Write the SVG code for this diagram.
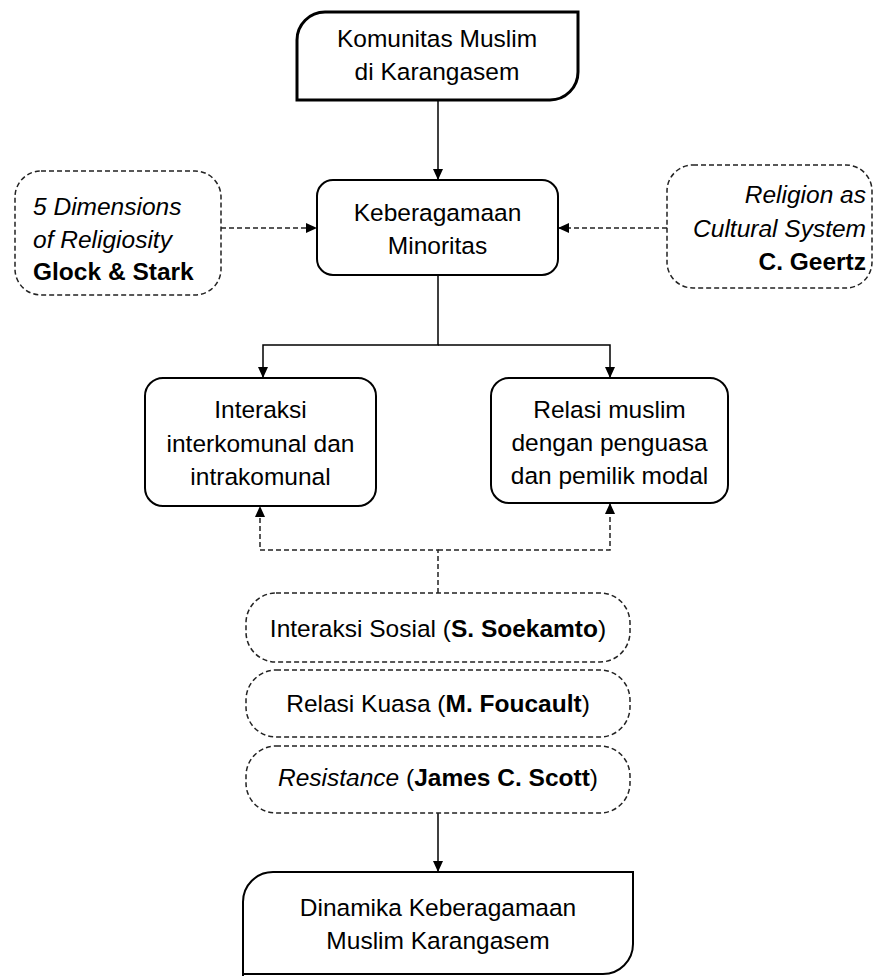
<svg xmlns="http://www.w3.org/2000/svg" width="874" height="976" viewBox="0 0 874 976">
<style>
text{font-family:"Liberation Sans",Arial,sans-serif;font-size:24.5px;fill:#000;}
.c{text-anchor:middle;}
.r{text-anchor:end;}
.b{font-weight:bold;}
.i{font-style:italic;}
.solid{fill:#fff;stroke:#000;stroke-width:2;}
.thick{fill:#fff;stroke:#000;stroke-width:3;}
.dash{fill:#fff;stroke:#222;stroke-width:1.5;stroke-dasharray:5 3;}
.ln{fill:none;stroke:#000;stroke-width:1.5;}
.dl{fill:none;stroke:#222;stroke-width:1.5;stroke-dasharray:5 3;}
</style>
<defs>
<marker id="ah" markerUnits="userSpaceOnUse" markerWidth="11" markerHeight="10" viewBox="0 0 11 10" refX="11" refY="5" orient="auto">
<path d="M0,0 L11,5 L0,10 z" fill="#000"/>
</marker>
</defs>
<rect width="874" height="976" fill="#fff"/>
<g id="connectors">
<path class="ln" d="M438,100 V180" marker-end="url(#ah)"/>
<path class="dl" d="M221,228 H317" marker-end="url(#ah)"/>
<path class="dl" d="M667,228 H558" marker-end="url(#ah)"/>
<path class="ln" d="M438,275 V345 H263 V378" marker-end="url(#ah)"/>
<path class="ln" d="M438,345 H610 V378" marker-end="url(#ah)"/>
<path class="dl" d="M438,593 V550 H260 V506" marker-end="url(#ah)"/>
<path class="dl" d="M438,550 H610 V503" marker-end="url(#ah)"/>
<path class="ln" d="M438,813 V872" marker-end="url(#ah)"/>
</g>
<g id="komunitas">
<path class="thick" d="M297,100 V40 A28,28 0 0 1 325,12 H578 V72 A28,28 0 0 1 550,100 Z"/>
<text class="c" x="437" y="47">Komunitas Muslim</text>
<text class="c" x="437" y="80">di Karangasem</text>
</g>
<g id="keberagamaan">
<rect class="solid" x="317" y="180" width="241" height="95" rx="16"/>
<text class="c" x="437.5" y="221">Keberagamaan</text>
<text class="c" x="437.5" y="254">Minoritas</text>
</g>
<g id="glock">
<rect class="dash" x="15" y="171" width="206" height="124" rx="26"/>
<text class="i" x="33" y="215">5 Dimensions</text>
<text class="i" x="33" y="248">of Religiosity</text>
<text class="b" x="33" y="280">Glock &amp; Stark</text>
</g>
<g id="geertz">
<rect class="dash" x="667" y="165" width="205" height="123" rx="26"/>
<text class="i r" x="866" y="203">Religion as</text>
<text class="i r" x="866" y="237">Cultural System</text>
<text class="b r" x="866" y="270">C. Geertz</text>
</g>
<g id="interaksi">
<rect class="solid" x="145" y="378" width="231" height="128" rx="18"/>
<text class="c" x="260.5" y="418">Interaksi</text>
<text class="c" x="260.5" y="452">interkomunal dan</text>
<text class="c" x="260.5" y="485">intrakomunal</text>
</g>
<g id="relasi">
<rect class="solid" x="491" y="378" width="237" height="125" rx="18"/>
<text class="c" x="609.5" y="418">Relasi muslim</text>
<text class="c" x="609.5" y="451">dengan penguasa</text>
<text class="c" x="609.5" y="484">dan pemilik modal</text>
</g>
<g id="soekamto">
<rect class="dash" x="246" y="593" width="384" height="69" rx="30"/>
<text class="c" x="438" y="637">Interaksi Sosial (<tspan class="b">S. Soekamto</tspan>)</text>
</g>
<g id="foucault">
<rect class="dash" x="246" y="670" width="384" height="67" rx="30"/>
<text class="c" x="438" y="712">Relasi Kuasa (<tspan class="b">M. Foucault</tspan>)</text>
</g>
<g id="scott">
<rect class="dash" x="246" y="746" width="384" height="67" rx="30"/>
<text class="c" x="438" y="786"><tspan class="i">Resistance</tspan> (<tspan class="b">James C. Scott</tspan>)</text>
</g>
<g id="dinamika">
<path class="solid" d="M243,980 V902 A30,30 0 0 1 273,872 H633 V944 A30,30 0 0 1 603,974 H243"/>
<text class="c" x="438" y="916">Dinamika Keberagamaan</text>
<text class="c" x="438" y="949">Muslim Karangasem</text>
</g>
</svg>
